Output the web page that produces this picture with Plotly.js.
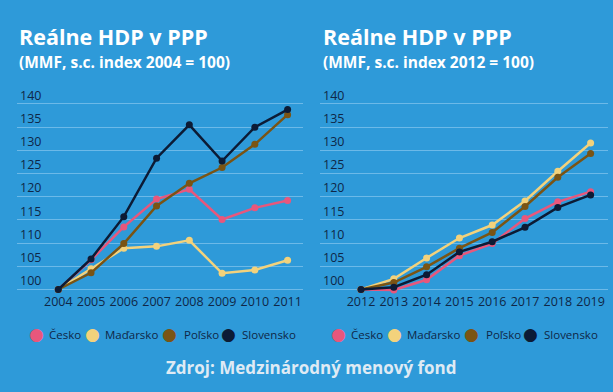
<!DOCTYPE html>
<html>
<head>
<meta charset="utf-8">
<script src="https://cdn.plot.ly/plotly-3.0.1.min.js"></script>
<style>html,body{margin:0;padding:0;background:#2e9ad9;}#chart{width:613px;height:392px;}</style>
</head>
<body>
<div id="chart"></div>
<script>
// ---- data ----
const names = ['Česko', 'Maďarsko', 'Poľsko', 'Slovensko'];
const years1 = [2004, 2005, 2006, 2007, 2008, 2009, 2010, 2011];
const years2 = [2012, 2013, 2014, 2015, 2016, 2017, 2018, 2019];
const cesko1     = [100, 106.4, 113.5, 119.5, 121.6, 115.1, 117.6, 119.2];
const madarsko1  = [100, 104.5, 108.9, 109.3, 110.6, 103.5, 104.2, 106.3];
const polsko1    = [100, 103.6, 109.9, 118.0, 122.9, 126.3, 131.3, 137.7];
const slovensko1 = [100, 106.6, 115.7, 128.3, 135.5, 127.7, 135.0, 138.8];
const cesko2     = [100, 99.9, 102.1, 107.3, 109.9, 115.3, 118.9, 121.1];
const madarsko2  = [100, 102.3, 106.8, 111.1, 113.9, 119.1, 125.5, 131.6];
const polsko2    = [100, 101.5, 104.9, 108.9, 112.3, 117.9, 124.2, 129.3];
const slovensko2 = [100, 100.5, 103.2, 108.1, 110.3, 113.4, 117.7, 120.4];
const yTicks = [100, 105, 110, 115, 120, 125, 130, 135, 140];
const title1 = 'Reálne HDP v PPP';
const subtitle1 = '(MMF, s.c. index 2004 = 100)';
const title2 = 'Reálne HDP v PPP';
const subtitle2 = '(MMF, s.c. index 2012 = 100)';
const source = 'Zdroj: Medzinárodný menový fond';

// ---- styles ----
const colors = ['#e8577c', '#f3d27c', '#7a5414', '#0c1b35'];
const bg = '#2e9ad9';
const ink = '#0f2747';
const font = 'Open Sans';
const W = 613, H = 392;

const set1 = [cesko1, madarsko1, polsko1, slovensko1];
const set2 = [cesko2, madarsko2, polsko2, slovensko2];

const traces = [];
set1.forEach((ys, i) => traces.push({
  x: years1, y: ys, name: names[i], type: 'scatter', mode: 'lines+markers',
  line: {color: colors[i], width: 2.5}, marker: {color: colors[i], size: 7},
  xaxis: 'x', yaxis: 'y', showlegend: false, cliponaxis: false, hoverinfo: 'skip'
}));
set2.forEach((ys, i) => traces.push({
  x: years2, y: ys, name: names[i], type: 'scatter', mode: 'lines+markers',
  line: {color: colors[i], width: 2.5}, marker: {color: colors[i], size: 7},
  xaxis: 'x2', yaxis: 'y2', showlegend: false, cliponaxis: false, hoverinfo: 'skip'
}));

const px = v => v / W;
const py = v => 1 - v / H;

const xCommon = {
  showgrid: false, zeroline: false, showline: false, ticks: '',
  tickfont: {family: font, size: 12.5, color: ink}, fixedrange: true
};
// 100 -> y=289.5px, 140 -> y=104px (4.64 px per unit)
const yCommon = {
  tickvals: yTicks, range: [99.3, 147], domain: [py(292.75), py(71.5)],
  showgrid: true, gridcolor: '#6cb9e8', gridwidth: 1, zeroline: false, showline: false,
  ticks: '', ticklabelposition: 'inside top',
  tickfont: {family: font, size: 12.5, color: ink}, fixedrange: true
};

const annotations = [];
function addText(text, x, y, size, color, bold, xanchor) {
  annotations.push({
    text: bold ? '<b>' + text + '</b>' : text,
    xref: 'paper', yref: 'paper', x: px(x), y: py(y),
    xanchor: xanchor || 'left', yanchor: 'middle', showarrow: false,
    font: {family: font, size: size, color: color}
  });
}
addText(title1, 17, 36.5, 21.5, '#ffffff', true);
addText(subtitle1, 17, 62, 15.5, '#ffffff', true);
addText(title2, 321, 36.5, 21.5, '#ffffff', true);
addText(subtitle2, 321, 62, 15.5, '#ffffff', true);
addText(source, 311, 367, 17, '#dfeaf4', true, 'center');

// legends (built from names/colors)
const dotX = [36.3, 92.2, 169.5, 228.2];
const txtX = [47, 103, 181.5, 240];
[0, 302].forEach(off => {
  names.forEach((n, i) => {
    annotations.push({
      text: '●', xref: 'paper', yref: 'paper', x: px(dotX[i] + off), y: py(334),
      xanchor: 'center', yanchor: 'middle', showarrow: false,
      font: {family: 'DejaVu Sans', size: 17, color: colors[i]}
    });
    addText(n, txtX[i] + off, 334, 11.5, ink, false);
  });
});

const layout = {
  width: W, height: H, margin: {l: 0, r: 0, t: 0, b: 0},
  paper_bgcolor: bg, plot_bgcolor: bg, showlegend: false,
  xaxis: Object.assign({}, xCommon, {domain: [px(17), px(303)], range: [2002.74, 2011.47], tickvals: years1, anchor: 'y'}),
  yaxis: Object.assign({}, yCommon, {anchor: 'x'}),
  xaxis2: Object.assign({}, xCommon, {domain: [px(320), px(608)], range: [2010.75, 2019.53], tickvals: years2, anchor: 'y2'}),
  yaxis2: Object.assign({}, yCommon, {anchor: 'x2'}),
  annotations: annotations
};

Plotly.newPlot('chart', traces, layout, {staticPlot: true, displayModeBar: false});
</script>
</body>
</html>
